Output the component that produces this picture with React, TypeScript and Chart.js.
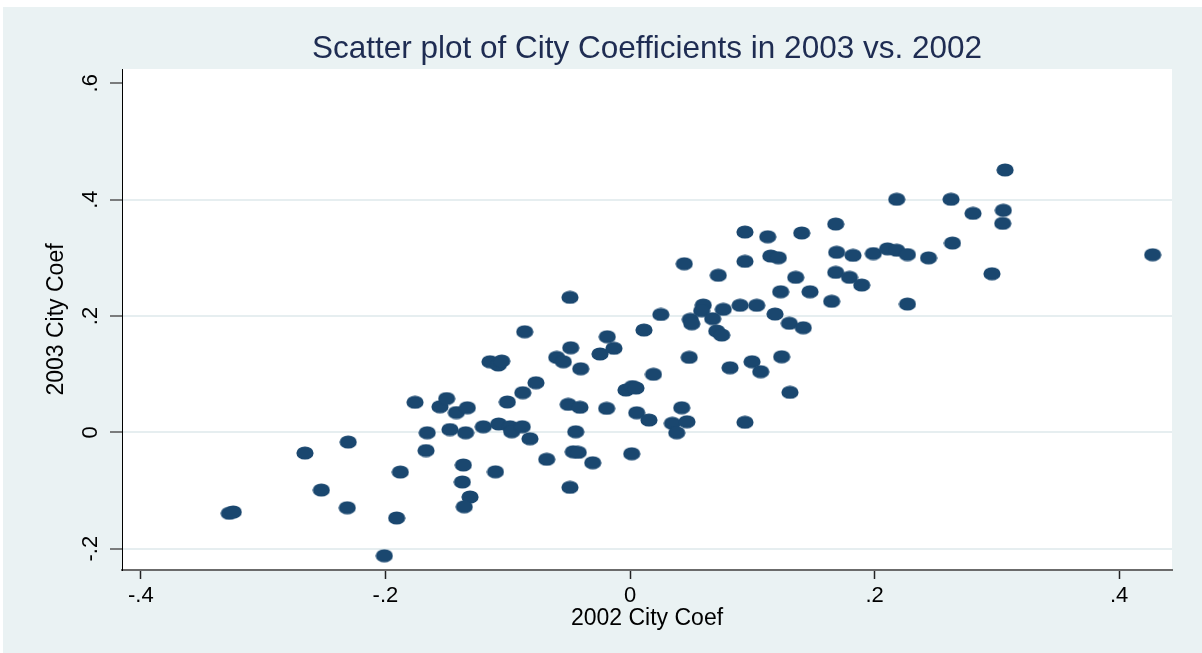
import React, { useEffect, useRef } from 'react';
import { Chart, registerables } from 'chart.js';

Chart.register(...registerables);

const TITLE = 'Scatter plot of City Coefficients in 2003 vs. 2002';
const X_TITLE = '2002 City Coef';
const Y_TITLE = '2003 City Coef';

const X_TICKS = [-0.4, -0.2, 0, 0.2, 0.4];
const X_TICK_LABELS = ['-.4', '-.2', '0', '.2', '.4'];
const Y_TICKS = [-0.2, 0, 0.2, 0.4, 0.6];
const Y_TICK_LABELS = ['-.2', '0', '.2', '.4', '.6'];

const COEF_2002 = [
  -0.3277, -0.3244, -0.2658, -0.2524, -0.2304, -0.2312, -0.2009, -0.1908, -0.1878, -0.1758,
  -0.1668, -0.1658, -0.1554, -0.1499, -0.1472, -0.1420, -0.1330, -0.1344, -0.1363, -0.1371,
  -0.1308, -0.1355, -0.1200, -0.1145, -0.1077, -0.1049, -0.1100, -0.1074, -0.1003, -0.0981,
  -0.0967, -0.0881, -0.0877, -0.0861, -0.0818, -0.0769, -0.0681, -0.0599, -0.0545, -0.0491,
  -0.0485, -0.0505, -0.0491, -0.0444, -0.0464, -0.0423, -0.0403, -0.0409, -0.0305, -0.0245,
  -0.0186, -0.0131, -0.0191, -0.0033, 0.0020, 0.0049, 0.0014, 0.0055, 0.0114, 0.0155,
  0.0192, 0.0252, 0.0346, 0.0382, 0.0423, 0.0444, 0.0466, 0.0484, 0.0493, 0.0505,
  0.0599, 0.0586, 0.0676, 0.0722, 0.0709, 0.0750, 0.0763, 0.0818, 0.0900, 0.0940,
  0.0940, 0.0940, 0.0998, 0.1036, 0.1069, 0.1126, 0.1151, 0.1186, 0.1213, 0.1232,
  0.1240, 0.1303, 0.1308, 0.1355, 0.1404, 0.1417, 0.1472, 0.1649, 0.1682, 0.1682,
  0.1690, 0.1795, 0.1824, 0.1895, 0.1990, 0.2106, 0.2181, 0.2181, 0.2269, 0.2269,
  0.2441, 0.2625, 0.2637, 0.2805, 0.2960, 0.3053, 0.3048, 0.3067, 0.4274,
];

const COEF_2003 = [
  -0.1391, -0.1369, -0.0355, -0.0991, -0.0166, -0.1295, -0.2120, -0.1472, -0.0682, 0.0517,
  -0.0312, -0.0006, 0.0441, 0.0582, 0.0049, 0.0341, 0.0424, -0.0006, -0.0561, -0.0853,
  -0.1111, -0.1278, 0.0097, 0.1214, 0.1158, 0.1226, -0.0678, 0.0144, 0.0522, 0.0097,
  0.0011, 0.0097, 0.0682, 0.1730, -0.0109, 0.0853, -0.0463, 0.1290, 0.1214, 0.2321,
  0.1455, 0.0482, -0.0945, 0.0011, -0.0333, -0.0343, 0.1094, 0.0431, -0.0522, 0.1347,
  0.1644, 0.1445, 0.0413, 0.0728, 0.0788, 0.0762, -0.0367, 0.0338, 0.1759, 0.0212,
  0.0998, 0.2026, 0.0156, -0.0006, 0.0424, 0.2899, 0.0183, 0.1290, 0.1943, 0.1868,
  0.2189, 0.2091, 0.1954, 0.2700, 0.1742, 0.1673, 0.2115, 0.1111, 0.2184, 0.3444,
  0.2940, 0.0173, 0.1214, 0.2184, 0.1043, 0.3363, 0.3031, 0.2034, 0.3002, 0.2418,
  0.1300, 0.1875, 0.0688, 0.2665, 0.3427, 0.1799, 0.2418, 0.2253, 0.3581, 0.2751,
  0.3095, 0.2665, 0.3043, 0.2533, 0.3074, 0.3155, 0.4006, 0.3131, 0.3057, 0.2206,
  0.3000, 0.4006, 0.3255, 0.3765, 0.2727, 0.3817, 0.3593, 0.4510, 0.3054,
];

const FONT = "'Liberation Sans', Arial, Helvetica, sans-serif";
const NAVY = '#1a476f';
const BG = '#eaf2f3';

function makeDot(): HTMLCanvasElement {
  const c = document.createElement('canvas');
  c.width = 18;
  c.height = 14;
  const g = c.getContext('2d')!;
  g.fillStyle = NAVY;
  g.beginPath();
  g.ellipse(9, 7, 8.6, 6.6, 0, 0, Math.PI * 2);
  g.fill();
  return c;
}

const backgroundPlugin = {
  id: 'stataBackground',
  beforeDraw(chart: any) {
    const { ctx, width, height, chartArea } = chart;
    ctx.save();
    ctx.fillStyle = '#ffffff';
    ctx.fillRect(0, 0, width, height);
    ctx.fillStyle = BG;
    ctx.fillRect(3, 7, width - 3, height - 7);
    ctx.fillStyle = '#ffffff';
    ctx.fillRect(chartArea.left, chartArea.top, chartArea.right - chartArea.left, chartArea.bottom - chartArea.top);
    ctx.restore();
  },
};

const titlePlugin = {
  id: 'stataTitle',
  afterDraw(chart: any) {
    const { ctx, chartArea } = chart;
    ctx.save();
    ctx.font = `31.5px ${FONT}`;
    ctx.fillStyle = '#1e2c52';
    ctx.textAlign = 'center';
    ctx.textBaseline = 'alphabetic';
    ctx.fillText(TITLE, (chartArea.left + chartArea.right) / 2, 58);
    ctx.restore();
  },
};

export default function App() {
  const canvasRef = useRef<HTMLCanvasElement | null>(null);

  useEffect(() => {
    if (!canvasRef.current) return;
    const dot = makeDot();
    const points = COEF_2002.map((x, i) => ({ x, y: COEF_2003[i] }));

    const chart = new Chart(canvasRef.current, {
      type: 'scatter',
      data: {
        datasets: [
          {
            data: points,
            pointStyle: dot as any,
            pointRadius: 9,
            pointHoverRadius: 9,
            backgroundColor: NAVY,
            borderColor: NAVY,
          },
        ],
      },
      options: {
        animation: false,
        responsive: false,
        events: [],
        layout: { padding: { top: 69, right: 30, bottom: 0, left: 0 } },
        plugins: {
          legend: { display: false },
          tooltip: { enabled: false },
          title: { display: false },
        },
        scales: {
          x: {
            type: 'linear',
            min: -0.4154,
            max: 0.4432,
            afterBuildTicks: (s: any) => {
              s.ticks = X_TICKS.map((v) => ({ value: v }));
            },
            afterFit: (s: any) => {
              s.height = 83;
            },
            grid: {
              drawOnChartArea: false,
              drawTicks: true,
              tickLength: 9,
              tickColor: '#222222',
              tickWidth: 1.5,
            },
            border: { display: true, color: '#6b6b6b', width: 2 },
            ticks: {
              padding: 4,
              color: '#000000',
              font: { family: FONT, size: 22 },
              maxRotation: 0,
              autoSkip: false,
              callback: (v: any) => X_TICK_LABELS[X_TICKS.indexOf(Number(v))],
            },
            title: {
              display: true,
              text: X_TITLE,
              color: '#000000',
              font: { family: FONT, size: 23 },
              padding: { top: 0, bottom: 21 },
            },
          },
          y: {
            type: 'linear',
            min: -0.2366,
            max: 0.6246,
            afterBuildTicks: (s: any) => {
              s.ticks = Y_TICKS.map((v) => ({ value: v }));
            },
            afterFit: (s: any) => {
              s.width = 122;
            },
            grid: {
              color: (c: any) => (c.tick && c.tick.value === 0.6 ? 'rgba(0,0,0,0)' : '#e6eef0'),
              lineWidth: 2,
              drawTicks: true,
              tickLength: 12,
              tickColor: '#555555',
              tickWidth: 1.5,
            },
            border: { display: true, color: '#000000', width: 1 },
            ticks: {
              padding: 6,
              color: '#000000',
              font: { family: FONT, size: 22 },
              minRotation: 90,
              maxRotation: 90,
              crossAlign: 'center',
              autoSkip: false,
              callback: (v: any) => Y_TICK_LABELS[Y_TICKS.indexOf(Number(v))],
            },
            title: {
              display: true,
              text: Y_TITLE,
              color: '#000000',
              font: { family: FONT, size: 23 },
              padding: { top: 43, bottom: 0 },
            },
          },
        },
      },
      plugins: [backgroundPlugin, titlePlugin],
    });

    return () => chart.destroy();
  }, []);

  return (
    <div style={{ position: 'absolute', left: 0, top: 0, width: 1202, height: 653 }}>
      <canvas ref={canvasRef} width={1202} height={653} style={{ display: 'block' }} />
    </div>
  );
}
